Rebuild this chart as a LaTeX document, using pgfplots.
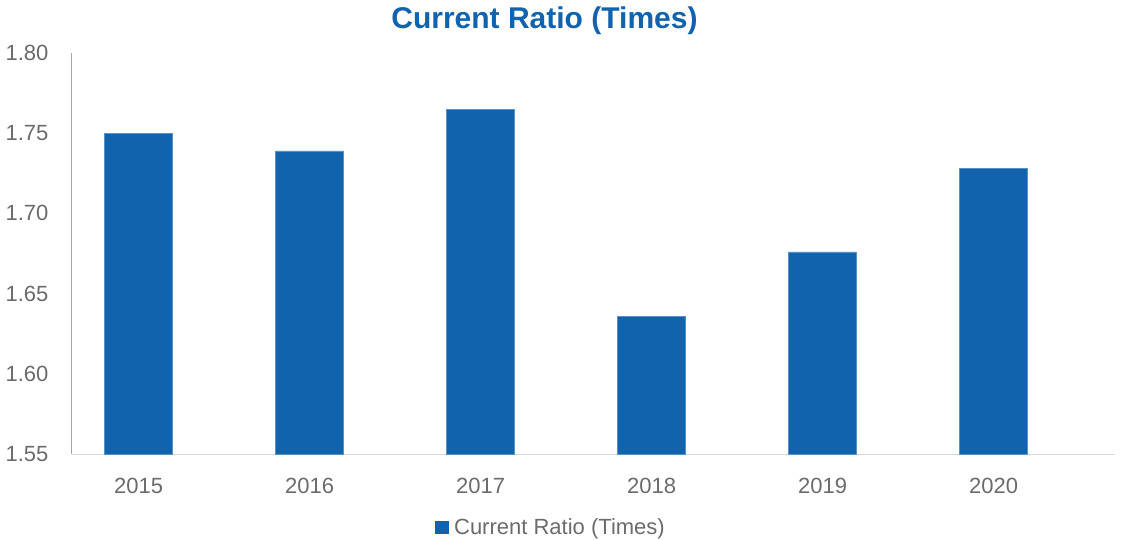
\documentclass[border=0pt]{standalone}
\usepackage{fontspec}
\setmainfont{Liberation Sans}
\usepackage{pgfplots}
\pgfplotsset{compat=1.18}
\definecolor{barblue}{HTML}{1063AC}
\definecolor{ticktext}{HTML}{6B6B6B}
\definecolor{yaxis}{HTML}{A6A6A6}
\definecolor{xaxis}{HTML}{D9D9D9}
\begin{document}
\begin{tikzpicture}
\path[use as bounding box] (0,0) rectangle (1122pt,539pt);
\begin{axis}[
  at={(72pt,85pt)}, anchor=south west,
  scale only axis,
  width=1043pt, height=401pt,
  xmin=-0.39, xmax=5.71,
  ymin=1.55, ymax=1.80,
  ytick={1.55,1.60,1.65,1.70,1.75,1.80},
  xtick={0,1,2,3,4,5},
  xticklabels={2015,2016,2017,2018,2019,2020},
  axis x line*=bottom, axis y line*=left,
  x axis line style={draw=xaxis, line width=1pt, -},
  y axis line style={draw=yaxis, line width=1pt, -},
  major tick length=0pt,
  tick style={draw=none},
  /pgf/number format/.cd, fixed, fixed zerofill, precision=2, assume math mode=true,
  /pgfplots/.cd,
  ticklabel style={font=\fontsize{22}{26}\selectfont, text=ticktext},
  yticklabel style={xshift=-20pt},
  xticklabel style={yshift=-21pt},
  ybar, bar width=68pt,
  title={Current Ratio (Times)},
  title style={at={(0.453,1)}, anchor=base, yshift=19pt, font=\fontsize{30}{36}\selectfont\bfseries, text=barblue},
  legend style={at={(0.459,-0.182)}, anchor=center, draw=none, fill=none,
    font=\fontsize{22}{26}\selectfont, text=ticktext, inner sep=0pt,
    /tikz/every even column/.append style={column sep=0pt}},
  legend image code/.code={\fill[barblue] (0pt,-6pt) rectangle (13pt,6pt);},
  legend cell align=left,
  clip=false,
]
\addplot[fill=barblue, draw=barblue!70!white, line width=0.5pt] coordinates {
  (0,1.750) (1,1.739) (2,1.765) (3,1.636) (4,1.676) (5,1.728)
};
\addlegendentry{\hspace{4pt}Current Ratio (Times)}
\end{axis}
\end{tikzpicture}
\end{document}
